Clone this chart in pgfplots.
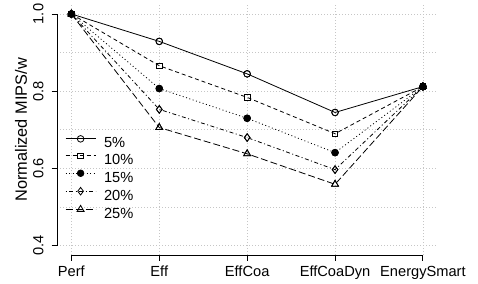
\documentclass[border=0pt]{standalone}
\usepackage{pgfplots}
\pgfplotsset{compat=1.18}
\usepackage{pgfplotstable}
\usepackage{fontspec}
\setmainfont{Liberation Sans}
\pgfplotstableread{
x s5 s10 s15 s20 s25
0 1.000 1.000 1.000 1.000 1.000
1 0.929 0.866 0.807 0.753 0.706
2 0.845 0.784 0.730 0.680 0.638
3 0.745 0.690 0.641 0.597 0.559
4 0.812 0.812 0.812 0.812 0.812
}\datatable
\begin{document}
\begin{tikzpicture}[font=\fontsize{14.7}{17}\selectfont]
\begin{axis}[name=ax,
  scale only axis, width=379.7bp, height=250.3bp,
  xmin=-0.16, xmax=4.16, ymin=0.376, ymax=1.024,
  clip=false,
  axis line style={draw=none},
  xtick={0,1,2,3,4},
  xticklabels={Perf,Eff,EffCoa,EffCoaDyn,EnergySmart},
  ytick={0.4,0.6,0.8,1.0},
  minor ytick={0.5,0.7,0.9},
  minor xtick={},
  xtick pos=bottom, ytick pos=left,
  tick align=outside,
  major tick length=5.6bp, minor tick length=0pt,
  tick style={black, line width=0.9bp},
  grid=both,
  major grid style={gray!45, line width=0.8bp, dash pattern=on 1bp off 2bp},
  minor grid style={gray!45, line width=0.8bp, dash pattern=on 1bp off 2bp},
  /pgf/number format/assume math mode=true,
  yticklabel style={/pgf/number format/fixed, /pgf/number format/fixed zerofill, /pgf/number format/precision=1, rotate=90, anchor=base, inner sep=0pt},
  xticklabel style={anchor=base, inner sep=0pt},
  xticklabel shift=15.4bp,
  yticklabel shift=8.4bp,
  ylabel={Normalized MIPS/w},
  ylabel style={at={(axis description cs:-0.0798,0.5)}, anchor=base, inner sep=0pt, font=\fontsize{16.4}{19}\selectfont},
  legend cell align=left,
  legend style={at={(axis description cs:0.0203,0.478)}, anchor=north west, draw=none, fill=none, inner sep=0pt, row sep=1.6bp, column sep=8bp,
    nodes={inner sep=0pt, text height=11bp, text depth=3.5bp}},
  legend image code/.code={\draw[mark repeat=2,mark phase=2,#1] plot coordinates {(0bp,5.3bp) (15bp,5.3bp) (30bp,5.3bp)};},
  every axis plot/.append style={black, line width=0.8bp},
]
\addplot[solid, mark=o, mark size=3.3bp, mark options={solid, fill=white}] table[x=x,y=s5] {\datatable};
\addlegendentry{5\%}
\addplot[dash pattern=on 4bp off 3bp, mark=square, mark size=2.8bp, mark options={solid, fill=white}] table[x=x,y=s10] {\datatable};
\addlegendentry{10\%}
\addplot[dash pattern=on 1bp off 2.5bp, mark=*, mark size=3.3bp, mark options={solid, fill=black}] table[x=x,y=s15] {\datatable};
\addlegendentry{15\%}
\addplot[dash pattern=on 1bp off 2.5bp on 4bp off 2.5bp, mark=diamond, mark size=3.8bp, mark options={solid, fill=white}] table[x=x,y=s20] {\datatable};
\addlegendentry{20\%}
\addplot[dash pattern=on 7bp off 3bp, mark=triangle, mark size=4bp, mark options={solid, fill=white}] table[x=x,y=s25] {\datatable};
\addlegendentry{25\%}
% second pass: marker outlines on top
\addplot[forget plot, only marks, mark=o, mark size=3.3bp, mark options={solid}] table[x=x,y=s5] {\datatable};
\addplot[forget plot, only marks, mark=square, mark size=2.8bp, mark options={solid}] table[x=x,y=s10] {\datatable};
\addplot[forget plot, only marks, mark=diamond, mark size=3.8bp, mark options={solid}] table[x=x,y=s20] {\datatable};
\addplot[forget plot, only marks, mark=triangle, mark size=4bp, mark options={solid}] table[x=x,y=s25] {\datatable};
\addplot[forget plot, only marks, mark=*, mark size=3.3bp, mark options={solid, fill=black}] table[x=x,y=s15] {\datatable};
% R-style axis lines
\draw[black, line width=1bp] (axis cs:-0.16,0.4) -- (axis cs:-0.16,1.0);
\draw[black, line width=1bp] (axis cs:0,0.376) -- (axis cs:4,0.376);
\end{axis}
\pgfresetboundingbox
\path ([xshift=-57.3bp,yshift=-29bp]ax.south west) rectangle ([xshift=41bp,yshift=4.7bp]ax.north east);
\end{tikzpicture}
\end{document}
